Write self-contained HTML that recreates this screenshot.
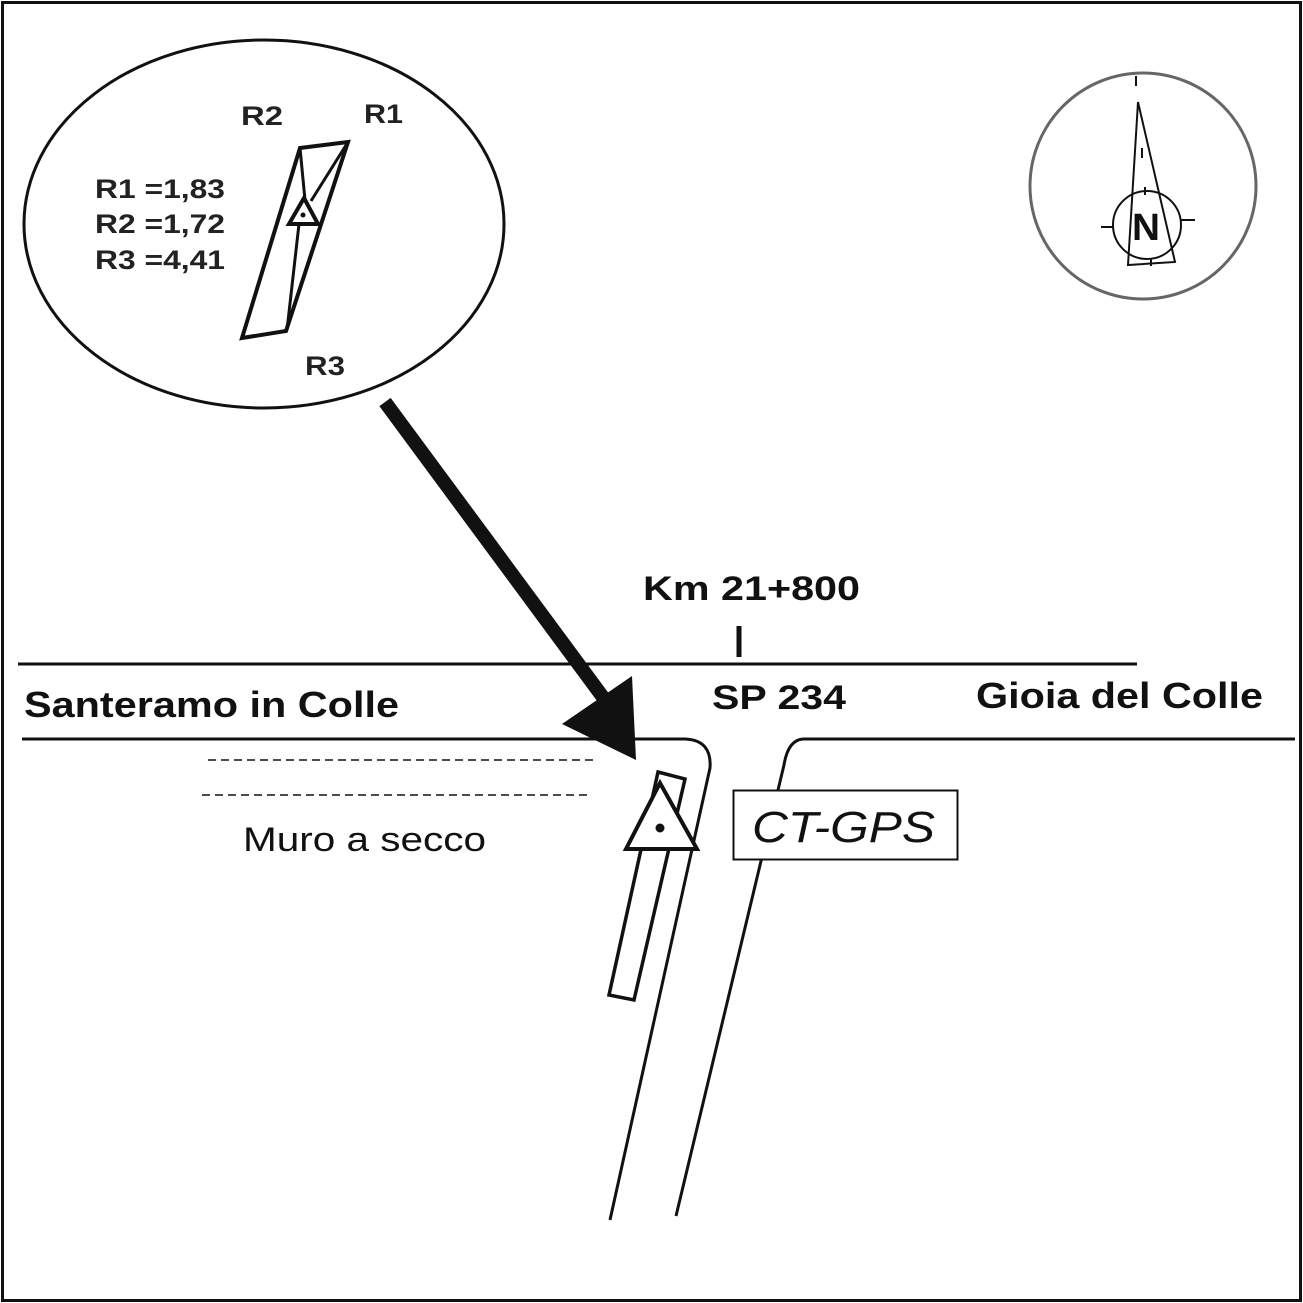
<!DOCTYPE html>
<html><head><meta charset="utf-8"><style>html,body{margin:0;padding:0;background:#fff}svg{display:block}</style></head>
<body>
<svg width="1303" height="1303" viewBox="0 0 1303 1303" xmlns="http://www.w3.org/2000/svg" font-family="Liberation Sans, Arial, sans-serif" fill="none" stroke="#111">
<rect x="2.5" y="2.5" width="1298" height="1298" stroke-width="3"/>
<ellipse cx="264" cy="224" rx="240" ry="184" stroke-width="3"/>
<!-- inset -->
<polygon points="300,148 348,142 286,331 242,338" stroke-width="4" stroke-linejoin="miter"/>
<polyline points="300,148 305,200" stroke-width="3"/>
<polyline points="348,142 311,201" stroke-width="3"/>
<polyline points="299,224 287,330" stroke-width="3"/>
<polygon points="304,198 289,224 318,224" stroke-width="4" fill="#fff"/>
<circle cx="303" cy="215" r="2.5" fill="#111" stroke="none"/>
<g fill="#222" stroke="none" font-weight="bold" font-size="27">
<text x="241" y="125" textLength="42" lengthAdjust="spacingAndGlyphs">R2</text>
<text x="364" y="123" textLength="39" lengthAdjust="spacingAndGlyphs">R1</text>
<text x="305" y="375" textLength="40" lengthAdjust="spacingAndGlyphs">R3</text>
<text x="95" y="198" textLength="130" lengthAdjust="spacingAndGlyphs">R1 =1,83</text>
<text x="95" y="233" textLength="130" lengthAdjust="spacingAndGlyphs">R2 =1,72</text>
<text x="95" y="269" textLength="130" lengthAdjust="spacingAndGlyphs">R3 =4,41</text>
</g>
<!-- compass -->
<circle cx="1143" cy="186" r="113" stroke="#666" stroke-width="3"/>
<g stroke-width="2">
<polygon points="1138,102 1128,265 1175,262"/>
<circle cx="1147" cy="225" r="34"/>
<line x1="1136" y1="76" x2="1136" y2="86"/>
<line x1="1142" y1="148" x2="1142" y2="158"/>
<line x1="1145" y1="187" x2="1145" y2="195"/>
<line x1="1101" y1="227" x2="1113" y2="227"/>
<line x1="1181" y1="220" x2="1195" y2="220"/>
<line x1="1151" y1="258" x2="1151" y2="266"/>
</g>
<text x="1132" y="240" font-size="38" font-weight="bold" fill="#111" stroke="none" textLength="28" lengthAdjust="spacingAndGlyphs">N</text>
<!-- roads -->
<line x1="18" y1="664" x2="1137" y2="664" stroke-width="3"/>
<path d="M22,739 H685 Q712,740 710,768 L610,1220" stroke-width="3"/>
<path d="M1295,739 H803 Q788,740 784,765 L676,1216" stroke-width="3"/>
<line x1="739" y1="626" x2="739" y2="657" stroke-width="5"/>
<line x1="208" y1="760" x2="598" y2="760" stroke-width="1.5" stroke-dasharray="8,5"/>
<line x1="202" y1="795" x2="590" y2="795" stroke-width="1.5" stroke-dasharray="8,5"/>
<!-- arrow -->
<line x1="385" y1="402" x2="605" y2="700" stroke="#111" stroke-width="14"/>
<polygon points="636,760 562,724 632,676" fill="#111" stroke="none"/>
<!-- station -->
<polygon points="658,772 685,779 634,1000 609,995" stroke-width="3.5" fill="#fff"/>
<polygon points="660,783 626,849 697,849" stroke-width="4" fill="#fff"/>
<circle cx="660" cy="828" r="4.5" fill="#111" stroke="none"/>
<rect x="733.5" y="790.5" width="224" height="69" stroke-width="2" fill="#fff"/>
<g fill="#111" stroke="none">
<text x="752" y="842" font-size="44" font-style="italic" textLength="183" lengthAdjust="spacingAndGlyphs">CT-GPS</text>
<text x="643" y="600" font-size="34" font-weight="bold" textLength="217" lengthAdjust="spacingAndGlyphs">Km 21+800</text>
<text x="712" y="709" font-size="34" font-weight="bold" textLength="134" lengthAdjust="spacingAndGlyphs">SP 234</text>
<text x="24" y="717" font-size="36" font-weight="bold" textLength="375" lengthAdjust="spacingAndGlyphs">Santeramo in Colle</text>
<text x="976" y="708" font-size="36" font-weight="bold" textLength="287" lengthAdjust="spacingAndGlyphs">Gioia del Colle</text>
<text x="243" y="851" font-size="34" textLength="243" lengthAdjust="spacingAndGlyphs">Muro a secco</text>
</g>
</svg>
</body></html>
